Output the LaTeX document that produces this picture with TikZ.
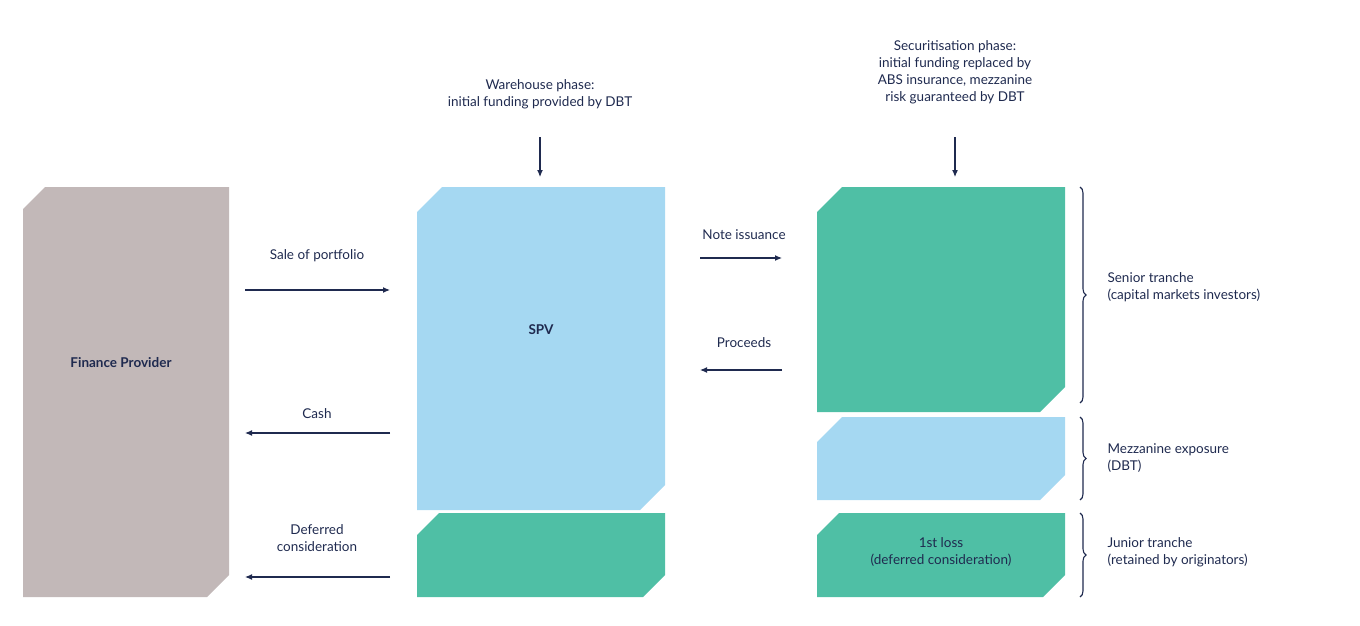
\documentclass[tikz,border=0pt]{standalone}
\usepackage{fontspec}
\setmainfont{Lato}
\begin{document}
\begin{tikzpicture}[x=1pt,y=-1pt,
  txt/.style={text=navy,font=\fontsize{13.5}{17}\selectfont,align=center},
  txl/.style={text=navy,font=\fontsize{13.5}{17}\selectfont,align=left,anchor=west},
  arr/.style={draw=navy,line width=1.1pt,-{Latex[length=7pt,width=6pt]}},
  br/.style={draw=navy,line width=1.1pt,decorate,decoration={brace,amplitude=6pt}}]
\usetikzlibrary{arrows.meta,decorations.pathreplacing}
\definecolor{navy}{HTML}{1F2A4F}
\definecolor{grey}{HTML}{C2B8B8}
\definecolor{blue}{HTML}{A5D8F2}
\definecolor{green}{HTML}{4FBFA5}
\useasboundingbox (0,0) rectangle (1360,626);
\newcommand\cutbox[6]{\fill[#6] (#1+#5,#2) -- (#3,#2) -- (#3,#4-#5) -- (#3-#5,#4) -- (#1,#4) -- (#1,#2+#5) -- cycle;}
\cutbox{23}{187}{229}{597}{22}{grey}
\cutbox{417}{187}{665}{510}{25}{blue}
\cutbox{417}{513}{665}{597}{22}{green}
\cutbox{817}{187}{1065}{412}{25}{green}
\cutbox{817}{417}{1065}{500}{25}{blue}
\cutbox{817}{513}{1065}{597}{22}{green}
\node[txt,font=\fontsize{13.5}{17}\selectfont\bfseries] (fp) at (121,363) {Finance Provider};
\node[txt,font=\fontsize{13.5}{17}\selectfont\bfseries] (spv) at (541,330) {SPV};
\node[txt] (loss) at (941,552) {1st loss\\(deferred consideration)};
\node[txt] (wh) at (540,94) {Warehouse phase:\\initial funding provided by DBT};
\node[txt] (sec) at (955,72) {Securitisation phase:\\initial funding replaced by\\ABS insurance, mezzanine\\risk guaranteed by DBT};
\coordinate (wa) at (540,137); \coordinate (wb) at (540,177);
\coordinate (sa) at (955,137); \coordinate (sb) at (955,177);
\draw[arr] (wa) -- (wb); \draw[arr] (sa) -- (sb);
\node[txt] (sale) at (317,256) {Sale of portfolio};
\node[txt] (cash) at (317,414) {Cash};
\node[txt] (def) at (317,538) {Deferred\\consideration};
\node[txt] (note) at (744,235) {Note issuance};
\node[txt] (proc) at (744,343) {Proceeds};
\coordinate (a1) at (245,290); \coordinate (b1) at (390,290);
\coordinate (a2) at (390,433); \coordinate (b2) at (245,433);
\coordinate (a3) at (390,577); \coordinate (b3) at (245,577);
\coordinate (a4) at (700,258); \coordinate (b4) at (782,258);
\coordinate (a5) at (782,370); \coordinate (b5) at (700,370);
\draw[arr] (a1)--(b1); \draw[arr] (a2)--(b2); \draw[arr] (a3)--(b3);
\draw[arr] (a4)--(b4); \draw[arr] (a5)--(b5);
\draw[br] (1080,187) -- (1080,403);
\draw[br] (1080,417) -- (1080,500);
\draw[br] (1080,513) -- (1080,597);
\node[txl] (sen) at (1104,287) {Senior tranche\\(capital markets investors)};
\node[txl] (mez) at (1104,458) {Mezzanine exposure\\(DBT)};
\node[txl] (jun) at (1104,552) {Junior tranche\\(retained by originators)};
\end{tikzpicture}
\end{document}
